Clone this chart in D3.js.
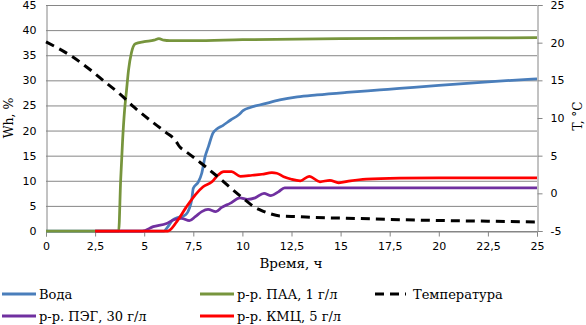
<!DOCTYPE html>
<html><head><meta charset="utf-8">
<script src="https://cdn.jsdelivr.net/npm/d3@7/dist/d3.min.js"></script>
<style>body{margin:0;background:#fff}svg{display:block}</style>
</head><body>
<svg id="c" width="586" height="325"></svg>
<script>
const xTicks = [0,2.5,5,7.5,10,12.5,15,17.5,20,22.5,25];
const yLeftTicks = [0,5,10,15,20,25,30,35,40,45];
const yRightTicks = [-5,0,5,10,15,20,25];
const seriesNames = ["Вода","р-р. ПАА, 1 г/л","р-р. ПЭГ, 30 г/л","р-р. КМЦ, 5 г/л","Температура"];
const seriesColors = ["#4a7ebb","#77953d","#7030a0","#ff0000","#000000"];

const water = [[0,0],[6.0,0],[6.2,0.8],[6.45,2.2],[6.8,2.8],[7.1,3.2],[7.3,4.5],[7.42,6.2],[7.5,8.5],[7.76,9.8],[7.93,11.5],[8.1,14.8],[8.27,16.8],[8.5,19.5],[8.7,20.3],[9.0,21.0],[9.4,22.1],[9.8,23.1],[10.05,24.0],[10.4,24.6],[11.1,25.3],[11.9,26.1],[12.8,26.7],[13.8,27.1],[15.3,27.6],[17,28.1],[18,28.4],[20,29.0],[22.5,29.7],[25,30.3]];
const paa = [[0,0],[3.7,0],[3.8,10],[3.9,18],[4.0,24],[4.1,28],[4.2,32],[4.35,35.5],[4.55,37.3],[5.0,37.7],[5.5,38.0],[5.75,38.3],[6.0,38.0],[6.3,37.9],[7.5,37.9],[10,38.1],[15,38.3],[20,38.4],[25,38.5]];
const peg = [[2.5,0],[4.9,0],[5.46,0.86],[6.14,1.5],[6.48,2.2],[6.9,2.5],[7.3,2.05],[7.6,2.85],[7.93,3.85],[8.25,4.3],[8.65,3.85],[8.95,4.7],[9.37,5.5],[9.88,6.6],[10.25,6.3],[10.65,6.6],[11.1,7.5],[11.45,7.05],[11.83,7.8],[12.15,8.6],[25,8.6]];
const kmc = [[2.5,0],[6.2,0],[6.65,1.8],[7.15,4.8],[7.6,7.2],[8.0,8.8],[8.45,9.8],[8.75,11.1],[9.05,11.8],[9.45,11.8],[9.9,10.9],[10.5,11.1],[11.0,11.3],[11.5,11.6],[11.75,11.5],[12.1,10.8],[12.5,10.3],[12.95,10.0],[13.4,10.9],[13.95,9.8],[14.45,10.1],[14.9,9.6],[15.5,10.0],[16.3,10.35],[18,10.55],[20,10.6],[25,10.6]];
const temp = [[0,20.1],[1.3,18.2],[2.25,16.4],[3.0,14.8],[3.8,13.1],[4.5,11.4],[5.3,9.7],[6.1,8.1],[6.6,7.0],[6.8,6.2],[7.1,5.6],[7.85,4.1],[8.7,2.3],[9.5,0.5],[10.2,-1.0],[10.6,-1.8],[10.9,-2.2],[11.4,-2.7],[11.9,-3.0],[12.9,-3.1],[13.6,-3.2],[15.3,-3.3],[18,-3.5],[20,-3.6],[22.5,-3.7],[25,-3.8]];

const svg = d3.select("#c");
const L=46, R=537, T=5, B=231;
const x = d3.scaleLinear().domain([0,25]).range([L,R]);
const yL = d3.scaleLinear().domain([0,45]).range([B,T]);
const yR = d3.scaleLinear().domain([-5,25]).range([B,T]);
const grid="#868686";
const fmt = d => String(d).replace(".",",");

// gridlines
svg.append("g").selectAll("line").data(yLeftTicks).join("line")
  .attr("x1",L).attr("x2",R).attr("y1",d=>yL(d)+0.5).attr("y2",d=>yL(d)+0.5)
  .attr("stroke",grid).attr("stroke-width",1);

// left axis
const gl = svg.append("g").attr("transform",`translate(${L+0.5},0)`)
  .call(d3.axisLeft(yL).tickValues(yLeftTicks).tickSize(0).tickPadding(10).tickFormat(fmt));
// bottom axis
const gb = svg.append("g").attr("transform",`translate(0,${B+0.5})`)
  .call(d3.axisBottom(x).tickValues(xTicks).tickSize(5).tickPadding(6).tickFormat(fmt));
// right axis
const gr = svg.append("g").attr("transform",`translate(${R+0.5},0)`)
  .call(d3.axisRight(yR).tickValues(yRightTicks).tickSize(5).tickPadding(8).tickFormat(fmt));
[gl,gb,gr].forEach(g=>{
  g.select(".domain").attr("stroke",grid);
  g.selectAll(".tick line").attr("stroke",grid);
  g.selectAll("text").attr("fill","#000").style("font-family","'DejaVu Sans', Verdana, sans-serif").style("font-size","11px");
});

const lineL = d3.line().x(d=>x(d[0])).y(d=>yL(d[1])).curve(d3.curveMonotoneX);
const lineR = d3.line().x(d=>x(d[0])).y(d=>yR(d[1])).curve(d3.curveMonotoneX);
const plot = svg.append("g");
[[water,0],[paa,1],[peg,2],[kmc,3]].forEach(([data,i])=>{
  plot.append("path").attr("d",lineL(data)).attr("fill","none")
    .attr("stroke",seriesColors[i]).attr("stroke-width",2.75).attr("stroke-linejoin","round");
});
plot.append("path").attr("d",lineR(temp)).attr("fill","none")
  .attr("stroke","#000").attr("stroke-width",3).attr("stroke-dasharray","9,6");

// axis titles
const serif = "'DejaVu Serif', Cambria, serif";
svg.append("text").attr("transform",`translate(13,118) rotate(-90)`).attr("text-anchor","middle")
  .style("font-family",serif).style("font-size","12.5px").text("Wh, %");
svg.append("text").attr("transform",`translate(582,116) rotate(-90)`).attr("text-anchor","middle")
  .style("font-family",serif).style("font-size","12px").text("T, °C");
svg.append("text").attr("x",291).attr("y",268).attr("text-anchor","middle")
  .style("font-family",serif).style("font-size","13.5px").text("Время, ч");

// legend
const leg = [
  {i:0,x:2,y:294},{i:1,x:200,y:294},{i:4,x:375,y:294},
  {i:2,x:2,y:316},{i:3,x:200,y:316}
];
leg.forEach(o=>{
  const g = svg.append("g");
  const dashed = o.i===4;
  g.append("line").attr("x1",o.x).attr("x2",dashed?o.x+31:o.x+34).attr("y1",o.y).attr("y2",o.y)
    .attr("stroke",seriesColors[o.i]).attr("stroke-width",3)
    .attr("stroke-dasharray",dashed?"9,6":null);
  g.append("text").attr("x",dashed?o.x+38:o.x+37).attr("y",o.y+4.5)
    .style("font-family",serif).style("font-size","13px").text(seriesNames[o.i]);
});
</script>
</body></html>
